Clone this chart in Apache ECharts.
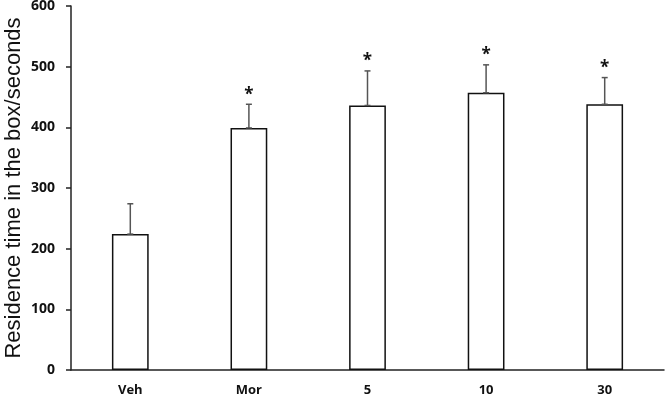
<!DOCTYPE html>
<html>
<head>
<meta charset="utf-8">
<script src="https://cdn.jsdelivr.net/npm/echarts@6/dist/echarts.min.js"></script>
<style>
  html, body { margin: 0; padding: 0; background: #fff; }
  #chart { width: 666px; height: 398px; }
</style>
</head>
<body>
<div id="chart"></div>
<script>
// groups on the x axis
const categories = ["Veh", "Mor", "5", "10", "30"];
// mean residence time (s)
const means = [224, 399, 436, 457, 438];
// upper error bar (s)
const errors = [50, 39, 57, 46, 44];
// significance star above bar
const starred = [false, true, true, true, true];
const yTicks = [0, 100, 200, 300, 400, 500, 600];

const chart = echarts.init(document.getElementById("chart"));

const errData = categories.map((c, i) => [i, means[i], means[i] + errors[i], starred[i] ? 1 : 0]);

const option = {
  animation: false,
  grid: { left: 71, right: 2, top: 6, bottom: 28, containLabel: false, outerBoundsMode: "none" },
  xAxis: {
    type: "category",
    data: categories,
    axisLine: { lineStyle: { color: "#222", width: 1.5 } },
    axisTick: { show: false },
    axisLabel: {
      color: "#111",
      fontFamily: "Open Sans",
      fontWeight: "bold",
      fontSize: 13,
      margin: 14,
    },
  },
  yAxis: {
    type: "value",
    min: yTicks[0],
    max: yTicks[yTicks.length - 1],
    interval: 100,
    name: "Residence time in the box/seconds",
    nameLocation: "middle",
    nameGap: 46,
    nameMoveOverlap: false,
    nameTextStyle: {
      color: "#111",
      fontFamily: "Liberation Sans",
      fontSize: 22,
    },
    splitLine: { show: false },
    axisLine: { show: true, lineStyle: { color: "#222", width: 1.5 } },
    axisTick: { show: true, length: 5, lineStyle: { color: "#222", width: 1.5 } },
    axisLabel: {
      color: "#111",
      fontFamily: "Open Sans",
      fontWeight: "bold",
      fontSize: 14,
      margin: 16,
    },
  },
  series: [
    {
      type: "bar",
      data: means,
      barWidth: "31%",
      itemStyle: { color: "#fff", borderColor: "#111", borderWidth: 1.5 },
      z: 2,
    },
    {
      type: "custom",
      data: errData,
      z: 3,
      renderItem: (params, api) => {
        const x = api.coord([api.value(0), api.value(1)])[0];
        const yLow = api.coord([api.value(0), api.value(1)])[1];
        const yHigh = api.coord([api.value(0), api.value(2)])[1];
        const style = { stroke: "#555", lineWidth: 1.5 };
        const children = [
          { type: "line", shape: { x1: x, y1: yLow, x2: x, y2: yHigh }, style },
          { type: "line", shape: { x1: x - 3, y1: yHigh, x2: x + 3, y2: yHigh }, style },
          { type: "line", shape: { x1: x - 3, y1: yLow, x2: x + 3, y2: yLow }, style },
        ];
        if (api.value(3)) {
          children.push({
            type: "text",
            style: {
              x: x,
              y: yHigh - 1,
              text: "*",
              fill: "#111",
              font: "bold 17px 'Open Sans'",
              align: "center",
              verticalAlign: "bottom",
            },
          });
        }
        return { type: "group", children };
      },
    },
  ],
};

chart.setOption(option);
</script>
</body>
</html>
